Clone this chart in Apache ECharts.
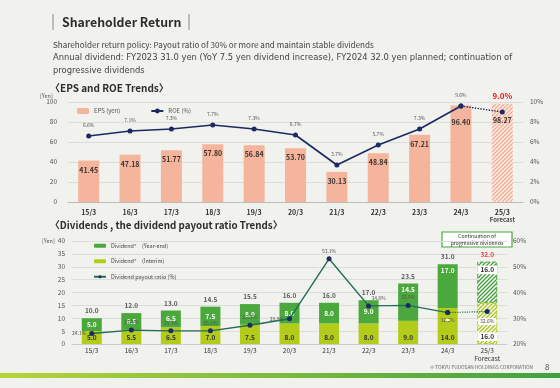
<!DOCTYPE html>
<html><head><meta charset="utf-8">
<script src="https://cdn.jsdelivr.net/npm/echarts@6/dist/echarts.min.js"></script>
<style>html,body{margin:0;padding:0;background:#f1f1ee}#c{width:560px;height:388px}</style>
</head><body><div id="c"></div>
<script>
// ---- data ----
const categories = ['15/3','16/3','17/3','18/3','19/3','20/3','21/3','22/3','23/3','24/3','25/3'];
const eps = [41.45, 47.18, 51.77, 57.80, 56.84, 53.70, 30.13, 48.84, 67.21, 96.40, 98.27];
const roe = [6.6, 7.1, 7.3, 7.7, 7.3, 6.7, 3.7, 5.7, 7.3, 9.6, 9.0];
const divInterim = [5.0, 5.5, 6.5, 7.0, 7.5, 8.0, 8.0, 8.0, 9.0, 14.0, 16.0];
const divYearEnd = [5.0, 6.5, 6.5, 7.5, 8.0, 8.0, 8.0, 9.0, 14.5, 17.0, 16.0];
const divTotal = [10.0, 12.0, 13.0, 14.5, 15.5, 16.0, 16.0, 17.0, 23.5, 31.0, 32.0];
const payout = [24.1, 25.4, 25.1, 25.1, 27.3, 29.8, 53.1, 34.8, 35.0, 32.2, 32.6];
const epsTicks = [0, 100, 20];
const roeTicks = [0, 10, 2];
const divTicks = [0, 40, 5];
const payoutTicks = [20, 60, 10];
const forecastIdx = 10;

const FONT = '"Noto Sans CJK JP","Noto Sans",sans-serif';
function hatch(fg, bg, s, lw) {
  const c = document.createElement('canvas'); c.width = s; c.height = s;
  const x = c.getContext('2d');
  x.fillStyle = bg; x.fillRect(0, 0, s, s);
  x.strokeStyle = fg; x.lineWidth = lw;
  x.beginPath();
  x.moveTo(0, s); x.lineTo(s, 0);
  x.moveTo(-1, 1); x.lineTo(1, -1);
  x.moveTo(s - 1, s + 1); x.lineTo(s + 1, s - 1);
  x.stroke();
  return { image: c, repeat: 'repeat' };
}
const SALMON = '#f5b59c', GREEN = '#4aa83c', YG = '#b3cc1a', NAVY = '#1b2a63', TEAL = '#216c5c';

const chart = echarts.init(document.getElementById('c'), null, {renderer: 'canvas'});
const last = (arr) => arr.map((v, i) => i < forecastIdx - 1 ? '-' : v);
const solid = (arr) => arr.map((v, i) => i === forecastIdx ? '-' : v);

const payoutLabelPos = ['left','top','top','top','top','left','top','top','top','bottom','bottom'];

chart.setOption({
  backgroundColor: '#f1f1ee',
  animation: false,
  textStyle: { fontFamily: FONT },
  grid: [
    { left: 68, right: 37, top: 102, height: 100, outerBoundsMode: 'none' },
    { left: 72, right: 53, top: 241, height: 103, outerBoundsMode: 'none' }
  ],
  legend: [
    { data: ['EPS (yen)', 'ROE (%)'], left: 72, top: 103, orient: 'horizontal', itemWidth: 12, itemHeight: 6, itemGap: 30,
      textStyle: { fontSize: 6, color: '#555' } },
    { data: ['Dividend*\u3000(Year-end)', 'Dividend*\u3000(Interim)', 'Dividend payout ratio (%)'], left: 88, top: 238, orient: 'vertical',
      itemWidth: 12, itemHeight: 4, itemGap: 10, textStyle: { fontSize: 5.5, color: '#444' } }
  ],
  xAxis: [
    { type: 'category', gridIndex: 0, data: categories,
      axisLine: { lineStyle: { color: '#bbb' } }, axisTick: { show: false },
      axisLabel: { interval: 0, margin: 6, color: '#333', fontSize: 7, fontWeight: 'bold', lineHeight: 8,
        formatter: (v) => v === categories[forecastIdx] ? '{b|' + v + '}\n{n|Forecast}' : v,
        rich: { b: { fontSize: 7, fontWeight: 'bold', color: '#333' }, n: { fontSize: 6, color: '#444' } } } },
    { type: 'category', gridIndex: 1, data: categories,
      axisLine: { lineStyle: { color: '#ccc' } }, axisTick: { show: false },
      axisLabel: { interval: 0, margin: 3, color: '#333', fontSize: 6.5, lineHeight: 8,
        formatter: (v) => v === categories[forecastIdx] ? v + '\nForecast' : v } }
  ],
  yAxis: [
    { type: 'value', gridIndex: 0, min: epsTicks[0], max: epsTicks[1], interval: epsTicks[2],
      axisLabel: { fontSize: 6.5, color: '#555', margin: 11 }, splitLine: { lineStyle: { color: '#dcdcd8' } }, axisLine: { show: false } },
    { type: 'value', gridIndex: 0, position: 'right', min: roeTicks[0], max: roeTicks[1], interval: roeTicks[2],
      axisLabel: { fontSize: 6.5, color: '#555', margin: 7, formatter: '{value}%' }, splitLine: { show: false }, axisLine: { show: false } },
    { type: 'value', gridIndex: 1, min: divTicks[0], max: divTicks[1], interval: divTicks[2],
      axisLabel: { fontSize: 6.5, color: '#555', margin: 7 }, splitLine: { lineStyle: { color: '#dcdcd8' } }, axisLine: { show: false } },
    { type: 'value', gridIndex: 1, position: 'right', min: payoutTicks[0], max: payoutTicks[1], interval: payoutTicks[2],
      axisLabel: { fontSize: 6.5, color: '#555', margin: 6, formatter: '{value}%' }, splitLine: { show: false }, axisLine: { show: false } }
  ],
  series: [
    { name: 'EPS (yen)', type: 'bar', xAxisIndex: 0, yAxisIndex: 0, barWidth: 21,
      itemStyle: { color: SALMON },
      data: eps.map((v, i) => {
        if (i === forecastIdx) return { value: v, itemStyle: { color: hatch('#f2a78c', '#fbe9e2', 4, 1.2) }, label: { distance: 13 } };
        if (i === forecastIdx - 1) return { value: v, label: { distance: 13 } };
        return v;
      }),
      label: { show: true, position: 'insideTop', distance: 6, fontSize: 7, fontWeight: 'bold', color: '#3a3330',
        formatter: (p) => p.value.toFixed(2) } },
    { name: 'ROE (%)', type: 'line', xAxisIndex: 0, yAxisIndex: 1, data: solid(roe), symbol: 'circle', symbolSize: 5,
      lineStyle: { color: NAVY, width: 1.6 }, itemStyle: { color: NAVY }, z: 5,
      label: { show: true, position: 'top', distance: 6, fontSize: 5, color: '#555', formatter: (p) => p.value.toFixed(1) + '%' } },
    { name: 'ROE forecast', type: 'line', xAxisIndex: 0, yAxisIndex: 1, data: last(roe), symbol: 'circle', symbolSize: 5,
      lineStyle: { color: NAVY, width: 1.4, type: 'dotted' }, itemStyle: { color: NAVY }, z: 5,
      label: { show: true, position: 'top', distance: 10, fontSize: 8, fontWeight: 'bold', color: '#e8141b',
        formatter: (p) => p.dataIndex === forecastIdx ? p.value.toFixed(1) + '%' : '' } },

    { name: 'Dividend*\u3000(Interim)', type: 'bar', stack: 'div', xAxisIndex: 1, yAxisIndex: 2, barWidth: 20,
      itemStyle: { color: YG },
      data: divInterim.map((v, i) => i === forecastIdx ? { value: v, itemStyle: { color: hatch('#a9c41a', '#ffffff', 4, 1.3), borderColor: YG, borderWidth: 1, borderType: 'dashed' },
        label: { backgroundColor: '#fff', padding: [1, 3] } } : v),
      label: { show: true, position: 'insideBottom', distance: 3, fontSize: 6.5, fontWeight: 'bold', color: '#333',
        formatter: (p) => p.value.toFixed(1) } },
    { name: 'Dividend*\u3000(Year-end)', type: 'bar', stack: 'div', xAxisIndex: 1, yAxisIndex: 2, barWidth: 20,
      itemStyle: { color: GREEN },
      data: divYearEnd.map((v, i) => {
        if (i === forecastIdx) return { value: v, itemStyle: { color: hatch('#3f9f3a', '#ffffff', 4, 1.3), borderColor: GREEN, borderWidth: 1, borderType: 'dashed' },
          label: { position: 'insideTop', distance: 4, color: '#333', backgroundColor: '#fff', padding: [1, 3] } };
        if (v >= 10) return { value: v, label: { position: 'insideTop', distance: 3 } };
        return v;
      }),
      label: { show: true, position: 'inside', fontSize: 6.5, fontWeight: 'bold', color: '#fff',
        formatter: (p) => p.value.toFixed(1) } },
    { name: 'total', type: 'scatter', xAxisIndex: 1, yAxisIndex: 2, symbolSize: 0, silent: true,
      data: divTotal.map((v, i) => i === forecastIdx ? { value: v, label: { color: '#e8141b' } } : v),
      label: { show: true, position: 'top', distance: 4, fontSize: 6.5, fontWeight: 'bold', color: '#333',
        formatter: (p) => p.value.toFixed(1) } },
    { name: 'Dividend payout ratio (%)', type: 'line', xAxisIndex: 1, yAxisIndex: 3,
      data: solid(payout).map((v, i) => v === '-' ? v : { value: v, label: { position: payoutLabelPos[i], offset: i === 7 ? [10, 0] : [0, 0] } }),
      symbol: 'circle', symbolSize: 5,
      lineStyle: { color: TEAL, width: 1.4 }, itemStyle: { color: NAVY }, z: 6,
      label: { show: true, fontSize: 5, color: '#555', distance: 3, formatter: (p) => p.value.toFixed(1) + '%' } },
    { name: 'payout forecast', type: 'line', xAxisIndex: 1, yAxisIndex: 3, data: last(payout), symbol: 'circle', symbolSize: 5,
      lineStyle: { color: TEAL, width: 1.2, type: 'dotted' }, itemStyle: { color: NAVY }, z: 6,
      label: { show: true, position: 'bottom', distance: 4, fontSize: 5, color: '#444', backgroundColor: '#fff', padding: [1, 2],
        formatter: (p) => p.dataIndex === forecastIdx ? p.value.toFixed(1) + '%' : '' } }
  ],
  graphic: [
    { type: 'line', shape: { x1: 53, y1: 14, x2: 53, y2: 30 }, style: { stroke: '#888', lineWidth: 1 } },
    { type: 'line', shape: { x1: 189, y1: 14, x2: 189, y2: 30 }, style: { stroke: '#888', lineWidth: 1 } },
    { type: 'text', x: 62, y: 22, style: { text: 'Shareholder Return', font: 'bold 12.3px ' + FONT, fill: '#2d2d2d', verticalAlign: 'middle' } },
    { type: 'text', x: 53, y: 45, style: { text: 'Shareholder return policy: Payout ratio of 30% or more and maintain stable dividends', font: '8.1px ' + FONT, fill: '#444', verticalAlign: 'middle' } },
    { type: 'text', x: 53, y: 58, style: { text: 'Annual dividend: FY2023 31.0 yen (YoY 7.5 yen dividend increase), FY2024 32.0 yen planned; continuation of', font: '8.4px "DejaVu Sans",sans-serif', fill: '#444', verticalAlign: 'middle' } },
    { type: 'text', x: 53, y: 71, style: { text: 'progressive dividends', font: '8.4px "DejaVu Sans",sans-serif', fill: '#444', verticalAlign: 'middle' } },
    { type: 'text', x: 50, y: 88, style: { text: '〈EPS and ROE Trends〉', font: 'bold 10px ' + FONT, fill: '#2d2d2d', verticalAlign: 'middle' } },
    { type: 'text', x: 40, y: 96, style: { text: '[Yen]', font: '5.5px ' + FONT, fill: '#555', verticalAlign: 'middle' } },
    { type: 'text', x: 50, y: 225, style: { text: '〈Dividends , the dividend payout ratio Trends〉', font: 'bold 9.8px ' + FONT, fill: '#2d2d2d', verticalAlign: 'middle' } },
    { type: 'text', x: 42, y: 241, style: { text: '[Yen]', font: '5.5px ' + FONT, fill: '#555', verticalAlign: 'middle' } },
    { type: 'group', x: 442, y: 232, children: [
      { type: 'rect', shape: { x: 0, y: 0, width: 70, height: 15 }, style: { fill: '#fff', stroke: '#4aa83c', lineWidth: 1.2 } },
      { type: 'text', x: 35, y: 7.5, style: { text: 'Continuation of\nprogressive dividends', font: '5.2px ' + FONT, fill: '#333', align: 'center', verticalAlign: 'middle', lineHeight: 6.3 } }
    ] },
    { type: 'text', x: 533, y: 367, style: { text: '© TOKYU FUDOSAN HOLDINGS CORPORATION', font: '4.8px ' + FONT, fill: '#666', align: 'right', verticalAlign: 'middle' } },
    { type: 'text', x: 545, y: 367, style: { text: '8', font: '8px ' + FONT, fill: '#555', verticalAlign: 'middle' } },
    { type: 'rect', shape: { x: 0, y: 373, width: 560, height: 5 },
      style: { fill: new echarts.graphic.LinearGradient(0, 0, 1, 0, [{ offset: 0, color: '#b7d43a' }, { offset: 1, color: '#3fa140' }]) } }
  ]
});
</script>
</body></html>
